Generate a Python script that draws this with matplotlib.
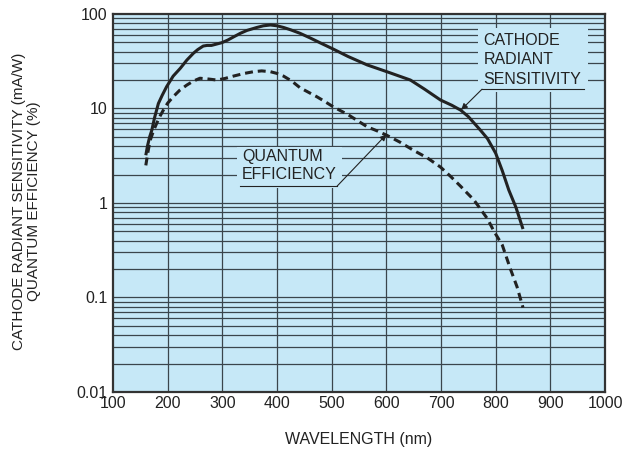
import matplotlib
matplotlib.use("Agg")
import matplotlib.pyplot as plt
from matplotlib.patches import Rectangle
from matplotlib.ticker import NullLocator

# Cathode radiant sensitivity (mA/W)
crs_nm = [160, 163, 167, 171, 176, 183, 190, 198, 210, 223, 235, 247, 255, 265,
          272, 280, 299, 310, 320, 333, 345, 363, 375, 388, 400, 412, 425, 442,
          460, 479, 503, 530, 565, 601, 644, 670, 699, 720, 736, 750, 772, 785,
          800, 812, 824, 837, 850]
crs_val = [3.2, 4.0, 5.0, 5.9, 8.0, 11.3, 13.8, 17, 22, 26.6, 32.5, 38.4, 42, 45.8,
           46.5, 46.5, 49.7, 53, 57, 62.5, 67, 72, 75, 76.5, 75, 72, 68, 62.5,
           56, 49.5, 42.5, 35.5, 28.9, 24.5, 20, 16, 12.3, 10.8, 9.6, 8.2, 5.9, 4.8,
           3.36, 2.2, 1.37, 0.9, 0.53]

# Quantum efficiency (%)
qe_nm = [160, 164, 168, 174, 180, 186, 192, 200, 210, 222, 235, 247, 259, 275,
         290, 305, 320, 340, 357, 372, 388, 400, 412, 427, 442, 458, 473, 488,
         503, 530, 565, 583, 601, 625, 650, 675, 699, 718, 736, 748, 760, 785,
         797, 812, 827, 839, 850]
qe_val = [2.5, 3.5, 4.6, 5.8, 7, 8.3, 9.6, 11.4, 13.3, 15.6, 17.7, 19.5, 20.9, 20.5,
          20, 20.8, 22, 23.5, 24.5, 25, 24.5, 23.5, 22, 19.5, 16.6, 14.8, 13.3, 11.8,
          10.4, 8.6, 6.4, 5.8, 5.2, 4.4, 3.6, 3.0, 2.4, 1.9, 1.5, 1.27, 1.08, 0.68,
          0.5, 0.36, 0.2, 0.13, 0.078]

x_ticks = [100, 200, 300, 400, 500, 600, 700, 800, 900, 1000]
y_ticks = [0.01, 0.1, 1, 10, 100]
y_ticklabels = ["0.01", "0.1", "1", "10", "100"]

BG = "#c6e8f7"
INK = "#222222"
GRID = "#3a454c"
FS = 11.5

plt.rcParams["font.family"] = ["Liberation Sans", "DejaVu Sans"]

fig = plt.figure(figsize=(6.22, 4.5), dpi=100)
ax = fig.add_axes([0.1817, 0.1289, 0.791, 0.84])
ax.set_facecolor(BG)
ax.set_yscale("log")
ax.set_xlim(100, 1000)
ax.set_ylim(0.01, 100)

# grid: every 100 nm, every 1..9 per decade
for xv in x_ticks[1:-1]:
    ax.axvline(xv, color=GRID, lw=0.9, zorder=0.5)
for dec in [0.01, 0.1, 1, 10]:
    for m in range(1, 10):
        yv = dec * m
        if yv <= 0.01:
            continue
        ax.axhline(yv, color=GRID, lw=0.9, zorder=0.5)

# label boxes blank out the grid behind the text
ax.add_patch(Rectangle((327, 1.44), 518 - 327, 3.92 - 1.44,
                       facecolor=BG, edgecolor="none", zorder=1))
ax.add_patch(Rectangle((768, 15.0), 968 - 768, 71 - 15.0,
                       facecolor=BG, edgecolor="none", zorder=1))

ax.plot(crs_nm, crs_val, color=INK, lw=2.2, solid_capstyle="butt", zorder=3)
ax.plot(qe_nm, qe_val, color=INK, lw=2.2, linestyle=(0, (2.6, 1.6)),
        dash_capstyle="butt", zorder=3)

# QUANTUM EFFICIENCY label
ax.text(336, 3.07, "QUANTUM", fontsize=FS, color=INK, va="center", zorder=4)
ax.text(336, 1.98, "EFFICIENCY", fontsize=FS, color=INK, va="center", zorder=4)
ax.plot([333, 510], [1.51, 1.51], color=INK, lw=0.8, zorder=4)
ax.annotate("", xy=(600, 5.3), xytext=(510, 1.51),
            arrowprops=dict(arrowstyle="-|>", color=INK, lw=0.8,
                            mutation_scale=9, shrinkA=0, shrinkB=0), zorder=4)

# CATHODE RADIANT SENSITIVITY label
for txt, yv in [("CATHODE", 52), ("RADIANT", 32.6), ("SENSITIVITY", 20.4)]:
    ax.text(778, yv, txt, fontsize=FS, color=INK, va="center", zorder=4)
ax.plot([775, 961], [16, 16], color=INK, lw=0.8, zorder=4)
ax.annotate("", xy=(737, 9.7), xytext=(775, 16),
            arrowprops=dict(arrowstyle="-|>", color=INK, lw=0.8,
                            mutation_scale=9, shrinkA=0, shrinkB=0), zorder=4)

ax.set_xticks(x_ticks)
ax.set_yticks(y_ticks)
ax.set_yticklabels(y_ticklabels)
ax.yaxis.set_minor_locator(NullLocator())
ax.tick_params(length=0, labelsize=FS, labelcolor=INK)
ax.tick_params(axis="x", pad=3)
ax.tick_params(axis="y", pad=4)

for sp in ax.spines.values():
    sp.set_color("#333333")
    sp.set_linewidth(1.6)

ax.set_xlabel("WAVELENGTH (nm)", fontsize=FS, color=INK)
ax.xaxis.set_label_coords(0.5, -0.105)
ax.set_ylabel("CATHODE RADIANT SENSITIVITY (mA/W)\nQUANTUM EFFICIENCY (%)",
              fontsize=11, color=INK, linespacing=1.1)
ax.yaxis.set_label_coords(-0.176, 0.505)
ax.yaxis.label.set_verticalalignment("center")

fig.savefig("out.png", dpi=100)
